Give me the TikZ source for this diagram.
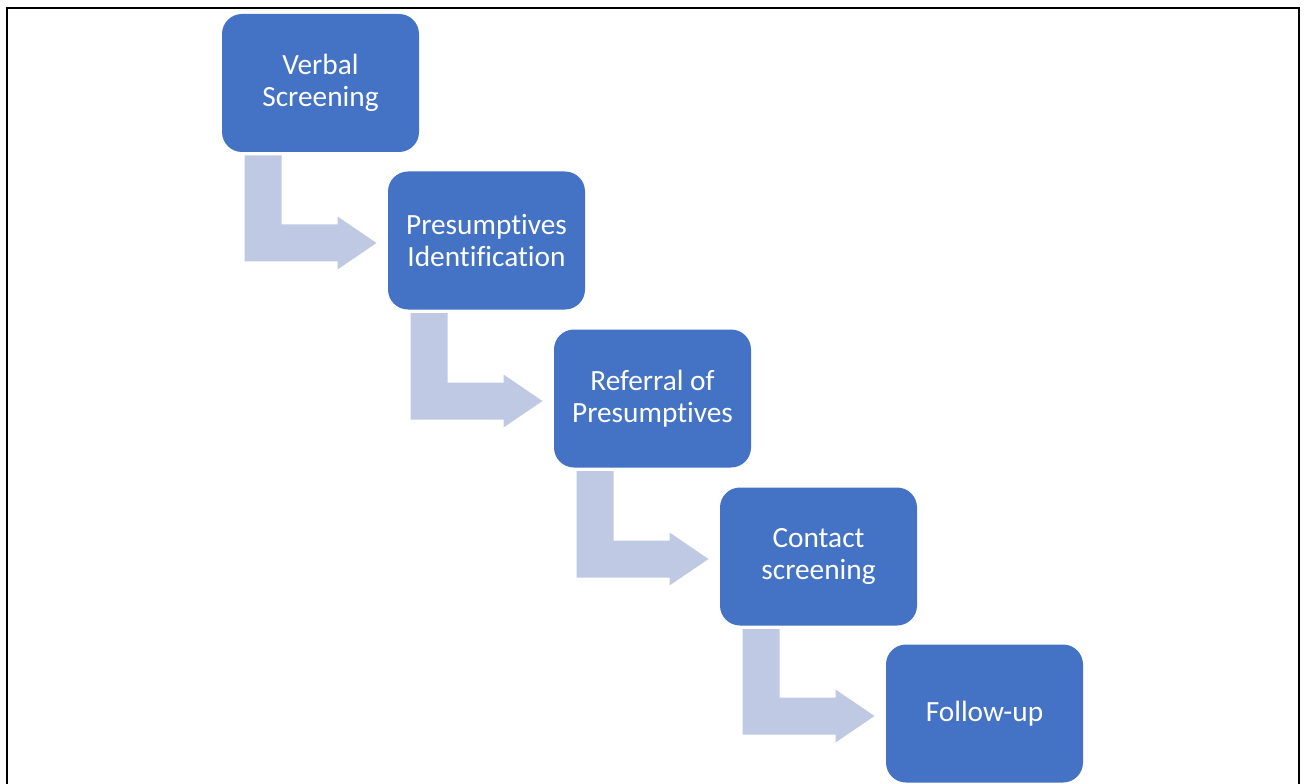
\documentclass[tikz,border=0pt]{standalone}
\usepackage{fontspec}
\setmainfont[Ligatures={NoCommon}]{Carlito}
\usetikzlibrary{calc}

\definecolor{boxblue}{RGB}{68,114,196}
\definecolor{arrowblue}{RGB}{191,201,228}

\tikzset{every picture/.style={line width=0.75pt}}
\tikzset{
  stepbox/.style={fill=boxblue, draw=none, rounded corners=15pt, minimum width=147.75pt, minimum height=103.5pt,
    align=center, text=white, font=\fontsize{22}{24.4}\selectfont, inner sep=0pt},
  bendarrow/.style={fill=arrowblue, draw=none}
}

% bent arrow from the bottom of one box to the left side of the next
\newcommand{\bentarrow}[2]{%
  \coordinate (s) at ($(#1.south west)+(23,3)$);
  \coordinate (t) at ($(#2.west)+(-11,2.5)$);
  \fill[bendarrow] (s) -- ++(37,0) |- ($(t)+(-39,-18.5)$) -- ++(0,-8) -- (t) -- ++(-39,26.5) -- ++(0,-8) -| (s) -- cycle;
}

\begin{document}
\begin{tikzpicture}[x=0.75pt,y=0.75pt,yscale=-1,xscale=1]
\useasboundingbox (0,0) rectangle (1306,784);

% frame
\draw [line width=1.5pt] (6.5,790) -- (6.5,8.5) -- (1298.5,8.5) -- (1298.5,790) ;

% Steps
\node [stepbox] (verbal) at (320.5,83) {Verbal\\Screening};
\node [stepbox] (presumptive) at (486.5,240.5) {Presumptives\\Identification};
\node [stepbox] (referral) at (652.5,398.5) {Referral of\\Presumptives};
\node [stepbox] (contact) at (818.5,556.5) {Contact\\screening};
\node [stepbox] (followup) at (984.5,713.5) {Follow-up};

% Arrows
\bentarrow{verbal}{presumptive}
\bentarrow{presumptive}{referral}
\bentarrow{referral}{contact}
\bentarrow{contact}{followup}

\end{tikzpicture}
\end{document}
